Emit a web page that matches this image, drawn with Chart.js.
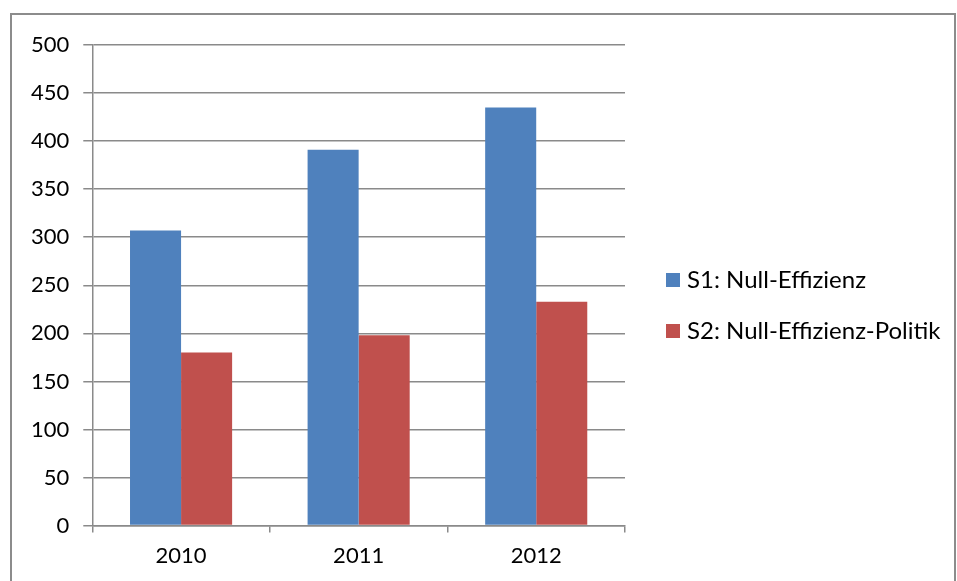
<!DOCTYPE html>
<html>
<head>
<meta charset="utf-8">
<script src="https://cdn.jsdelivr.net/npm/chart.js@4.4.0/dist/chart.umd.min.js"></script>
<style>
  html,body{margin:0;padding:0;background:#fff;}
  #frame{position:absolute;left:10px;top:13px;width:946px;height:600px;border:2px solid #8c8c8c;box-sizing:border-box;}
  #wrap{position:absolute;left:0;top:0;width:957px;height:581px;}
</style>
</head>
<body>
<div id="frame"></div>
<div id="wrap"><canvas id="chart"></canvas></div>
<script>
// data
const years = ["2010","2011","2012"];
const s1Name = "S1: Null-Effizienz";
const s1Values = [307, 391, 435];
const s2Name = "S2: Null-Effizienz-Politik";
const s2Values = [180, 198, 233];
const yMin = 0, yMax = 500, yStep = 50;

const gridColor = "#8a8a8a";
const font = {family:"Lato", size:22};

// legend drawn by hand, the built-in one is capped to a narrow width
const sideLegend = {
  id: "sideLegend",
  afterDraw(chart, args, opts) {
    const ctx = chart.ctx;
    ctx.save();
    ctx.font = opts.size + "px " + opts.family;
    ctx.textBaseline = "middle";
    ctx.textAlign = "left";
    chart.data.datasets.forEach((ds, i) => {
      const y = opts.top + i * opts.rowGap;
      ctx.fillStyle = ds.backgroundColor;
      ctx.fillRect(opts.left, y - opts.box / 2, opts.box, opts.box);
      ctx.fillStyle = "#000";
      ctx.fillText(ds.label, opts.left + opts.box + 7, y);
    });
    ctx.restore();
  }
};

new Chart(document.getElementById("chart"), {
  type: "bar",
  data: {
    labels: years,
    datasets: [
      {label: s1Name, data: s1Values, backgroundColor: "#4F81BD"},
      {label: s2Name, data: s2Values, backgroundColor: "#C0504D"}
    ]
  },
  plugins: [sideLegend],
  options: {
    responsive: true,
    maintainAspectRatio: false,
    animation: false,
    categoryPercentage: 0.575,
    barPercentage: 1,
    layout: {padding: {left: 17, top: 45, right: 332, bottom: 2}},
    plugins: {
      tooltip: {enabled: false},
      legend: {display: false},
      sideLegend: {left: 666, top: 280, rowGap: 51, box: 14, family: "Lato", size: 24}
    },
    scales: {
      x: {
        grid: {drawOnChartArea: false, drawTicks: true, tickLength: 7, color: gridColor, lineWidth: 1.5},
        border: {color: gridColor, width: 1.5},
        ticks: {color: "#000", font: font, padding: 10}
      },
      y: {
        min: yMin, max: yMax,
        grid: {color: gridColor, lineWidth: 1.5, tickLength: 9},
        border: {color: gridColor, width: 1.5},
        ticks: {stepSize: yStep, color: "#000", font: font, padding: 14}
      }
    }
  }
});
</script>
</body>
</html>
